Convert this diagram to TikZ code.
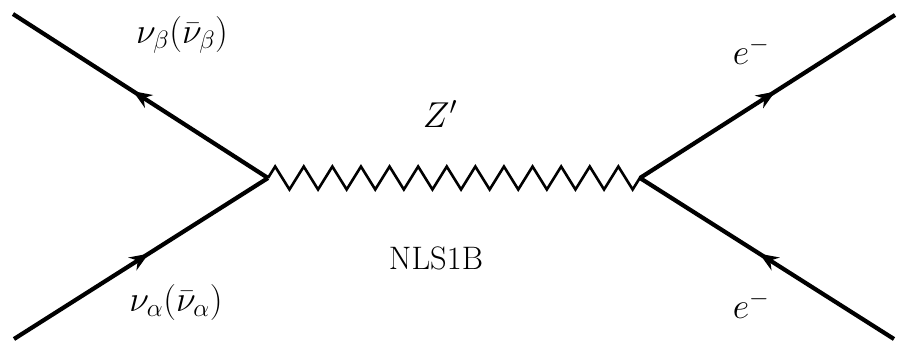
\RequirePackage{fix-cm}
\documentclass[tikz,border=0pt]{standalone}
\usetikzlibrary{decorations.pathmorphing,decorations.markings,arrows.meta}
\tikzset{
  fermion/.style={line width=4.2pt, postaction={decorate},
    decoration={markings, mark=at position 0.53 with {\arrow{Stealth[length=19pt,width=15pt]}}}},
  boson/.style={line width=2.6pt, decorate,
    decoration={zigzag, segment length=28.6pt, amplitude=11.5pt}},
  lbl/.style={inner sep=0pt, font=\fontsize{32.5}{40}\selectfont},
  mlbl/.style={inner sep=0pt, font=\fontsize{36}{44}\selectfont}
}
\begin{document}
\begin{tikzpicture}[x=1pt,y=-1pt]
\useasboundingbox (0,0) rectangle (897,341);
\coordinate (v1) at (268,178);
\coordinate (v2) at (640,178);
\coordinate (a) at (13,14);
\coordinate (b) at (14,339);
\coordinate (c) at (895,15);
\coordinate (d) at (894,339);
\draw[fermion] (v1) -- (a);
\draw[fermion] (b) -- (v1);
\draw[fermion] (v2) -- (c);
\draw[fermion] (d) -- (v2);
\draw[boson] (v1) -- (v2);
\node[mlbl] (nb) at (182,35) {$\nu_\beta(\bar\nu_\beta)$};
\node[mlbl] (na) at (176,302) {$\nu_\alpha(\bar\nu_\alpha)$};
\node[mlbl] (e1) at (751,51) {$e^-$};
\node[mlbl] (e2) at (751,305) {$e^-$};
\node[mlbl] (z) at (440,114) {$Z'$};
\node[lbl, anchor=base] (nl) at (436,269) {NLS1B};
\end{tikzpicture}
\end{document}
